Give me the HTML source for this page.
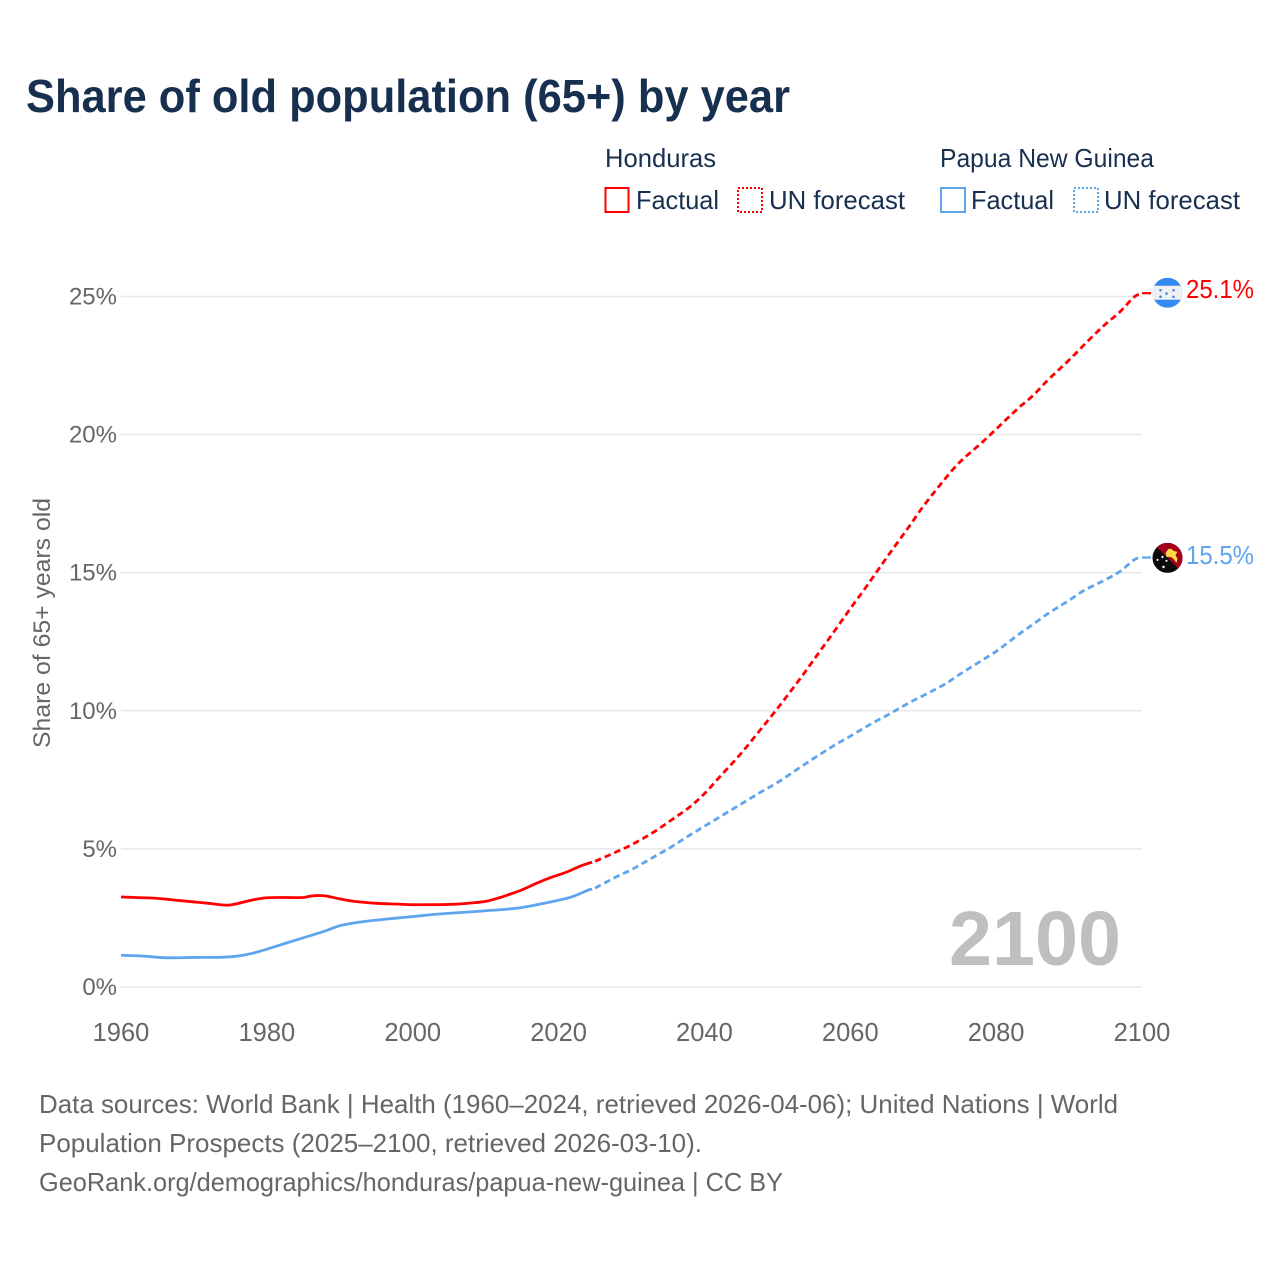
<!DOCTYPE html>
<html lang="en">
<head>
<meta charset="utf-8">
<title>Share of old population (65+) by year</title>
<style>
html,body{margin:0;padding:0;background:#fff;}
svg{display:block;font-family:"Liberation Sans",sans-serif;}
</style>
</head>
<body>
<svg id="chart" width="1280" height="1280" viewBox="0 0 1280 1280" xmlns="http://www.w3.org/2000/svg">
  <rect width="1280" height="1280" fill="#fff"/>
  <text x="26" y="112" font-size="46" font-weight="bold" fill="#18304f" textLength="764" lengthAdjust="spacingAndGlyphs">Share of old population (65+) by year</text>

  <g font-size="26" fill="#18304f">
    <text x="605" y="167" textLength="111" lengthAdjust="spacingAndGlyphs">Honduras</text>
    <rect x="605.5" y="188" width="23" height="24" fill="none" stroke="#ff0000" stroke-width="2"/>
    <text x="636" y="209" textLength="83" lengthAdjust="spacingAndGlyphs">Factual</text>
    <rect x="738" y="188" width="24" height="24" fill="none" stroke="#ff0000" stroke-width="2" stroke-dasharray="2 2"/>
    <text x="769" y="209" textLength="136" lengthAdjust="spacingAndGlyphs">UN forecast</text>
    <text x="940" y="167" textLength="214" lengthAdjust="spacingAndGlyphs">Papua New Guinea</text>
    <rect x="941" y="188" width="24" height="24" fill="none" stroke="#5ea5ee" stroke-width="2"/>
    <text x="971" y="209" textLength="83" lengthAdjust="spacingAndGlyphs">Factual</text>
    <rect x="1074" y="188" width="24" height="24" fill="none" stroke="#5ea5ee" stroke-width="2" stroke-dasharray="2 2"/>
    <text x="1104" y="209" textLength="136" lengthAdjust="spacingAndGlyphs">UN forecast</text>
  </g>

  <g id="grid"></g>
  <g id="yticks" font-size="24" fill="#666"></g>
  <g id="xticks" font-size="25.5" fill="#666"></g>
  <text transform="translate(50,623) rotate(-90)" text-anchor="middle" font-size="24.5" fill="#666" textLength="250" lengthAdjust="spacingAndGlyphs">Share of 65+ years old</text>

  <text x="949" y="965" font-size="77" font-weight="bold" fill="#bfbfbf" textLength="172" lengthAdjust="spacingAndGlyphs">2100</text>

  <g id="series"></g>

  <g id="flag-honduras">
    <clipPath id="clipHn"><circle cx="0" cy="0" r="15"/></clipPath>
    <g clip-path="url(#clipHn)">
      <rect x="-15" y="-15" width="30" height="30" fill="#338af3"/>
      <rect x="-15" y="-7" width="30" height="14" fill="#f0f0f0"/>
      <g fill="#338af3">
        <circle cx="-7" cy="-2.5" r="1.3"/><circle cx="6" cy="-2.5" r="1.3"/>
        <circle cx="-1" cy="0.8" r="1.3"/>
        <circle cx="-7" cy="4" r="1.3"/><circle cx="6" cy="4" r="1.3"/>
      </g>
    </g>
  </g>
  <g id="flag-png">
    <clipPath id="clipPg"><circle cx="0" cy="0" r="15"/></clipPath>
    <g clip-path="url(#clipPg)">
      <rect x="-15" y="-15" width="30" height="30" fill="#0a0a0a"/>
      <polygon points="-15,-15 15,-15 15,15" fill="#a2001d"/>
      <path d="M-2,-5 L1,-9 L4,-9 L6,-7 L10,-6 L8,-3 L10,1 L9,5 L6,1 L3,-1 L-1,-1 Z" fill="#ffda44"/>
      <g fill="#e8f0ff">
        <circle cx="-5" cy="-1" r="1.2"/><circle cx="-10" cy="2" r="1.1"/>
        <circle cx="-1" cy="3" r="1.1"/><circle cx="-4" cy="9" r="1.3"/>
      </g>
    </g>
  </g>

  <text id="label-honduras" x="1186" y="298" font-size="25.5" fill="#ff0000" textLength="68" lengthAdjust="spacingAndGlyphs"></text>
  <text id="label-png" x="1186" y="564" font-size="25.5" fill="#5ea5ee" textLength="68" lengthAdjust="spacingAndGlyphs"></text>

  <g font-size="26" fill="#666">
    <text x="39" y="1113" textLength="1079" lengthAdjust="spacingAndGlyphs">Data sources: World Bank | Health (1960–2024, retrieved 2026-04-06); United Nations | World</text>
    <text x="39" y="1152" textLength="663" lengthAdjust="spacingAndGlyphs">Population Prospects (2025–2100, retrieved 2026-03-10).</text>
    <text x="39" y="1191" textLength="744" lengthAdjust="spacingAndGlyphs">GeoRank.org/demographics/honduras/papua-new-guinea | CC BY</text>
  </g>
</svg>

<script>
const yTickValues = [0, 5, 10, 15, 20, 25];
const xTickValues = [1960, 1980, 2000, 2020, 2040, 2060, 2080, 2100];

const hnFactualYears = [1960,1962,1965,1968,1970,1972,1974,1975,1976,1978,1980,1982,1985,1986,1987,1988,1990,1992,1995,1998,2000,2002,2005,2007,2010,2012,2013,2015,2017,2019,2021,2023,2024,2024.6];
const hnFactualValues = [3.26,3.24,3.21,3.13,3.08,3.03,2.97,2.97,3.02,3.15,3.23,3.24,3.24,3.29,3.31,3.30,3.19,3.10,3.03,3.00,2.98,2.98,2.99,3.02,3.10,3.24,3.33,3.52,3.76,3.97,4.15,4.38,4.47,4.52];

const hnForecastYears = [2025,2028,2030,2033,2035,2038,2040,2042,2045,2048,2050,2053,2055,2058,2060,2062,2065,2068,2070,2073,2075,2078,2080,2083,2085,2087,2090,2093,2095,2097,2099,2100];
const hnForecastValues = [4.55,4.90,5.15,5.60,5.96,6.52,7.00,7.58,8.45,9.42,10.08,11.12,11.85,12.95,13.70,14.42,15.55,16.65,17.40,18.40,19.00,19.70,20.20,20.95,21.40,21.95,22.70,23.50,24.00,24.45,25.00,25.12];

const pgFactualYears = [1960,1963,1966,1970,1974,1976,1978,1980,1983,1985,1988,1990,1992,1995,1998,2000,2003,2005,2008,2010,2013,2015,2018,2020,2022,2024,2024.6];
const pgFactualValues = [1.15,1.12,1.06,1.07,1.08,1.12,1.22,1.37,1.62,1.78,2.03,2.22,2.32,2.42,2.50,2.55,2.63,2.67,2.72,2.76,2.82,2.88,3.03,3.14,3.28,3.50,3.55];

const pgForecastYears = [2025,2028,2030,2033,2035,2038,2040,2043,2045,2048,2050,2053,2055,2058,2060,2063,2065,2068,2070,2073,2075,2078,2080,2083,2085,2087,2090,2092,2095,2097,2099,2100];
const pgForecastValues = [3.58,4.00,4.25,4.70,5.00,5.50,5.82,6.30,6.62,7.10,7.40,7.93,8.28,8.78,9.08,9.55,9.83,10.28,10.55,10.97,11.32,11.82,12.15,12.75,13.12,13.50,14.00,14.35,14.75,15.05,15.48,15.55];

const endValueHonduras = 25.1;
const endValuePng = 15.5;

const NS = 'http://www.w3.org/2000/svg';
const xScale = function (year) { return 121 + (year - 1960) * (1142 - 121) / 140; };
const yScale = function (value) { return 987 - value * (987 - 296.5) / 25; };

function smoothPath(years, values) {
  const pts = years.map(function (y, i) { return [xScale(y), yScale(values[i])]; });
  let d = 'M' + pts[0][0].toFixed(2) + ',' + pts[0][1].toFixed(2);
  for (let i = 0; i < pts.length - 1; i++) {
    const p0 = pts[Math.max(0, i - 1)], p1 = pts[i], p2 = pts[i + 1], p3 = pts[Math.min(pts.length - 1, i + 2)];
    const k = (p2[0] - p1[0]) / 3;
    const s1 = (p2[1] - p0[1]) / (p2[0] - p0[0]);
    const s2 = (p3[1] - p1[1]) / (p3[0] - p1[0]);
    d += 'C' + (p1[0] + k).toFixed(2) + ',' + (p1[1] + k * s1).toFixed(2) + ' ' +
         (p2[0] - k).toFixed(2) + ',' + (p2[1] - k * s2).toFixed(2) + ' ' +
         p2[0].toFixed(2) + ',' + p2[1].toFixed(2);
  }
  return d;
}

const gridGroup = document.getElementById('grid');
const yTickGroup = document.getElementById('yticks');
const xTickGroup = document.getElementById('xticks');
const seriesGroup = document.getElementById('series');

yTickValues.forEach(function (v) {
  const line = document.createElementNS(NS, 'line');
  
  
  line.setAttribute('x1', xScale(1960));
  line.setAttribute('x2', xScale(2100));
  line.setAttribute('y1', yScale(v));
  line.setAttribute('y2', yScale(v));
  line.setAttribute('stroke', '#e8e8e8');
  line.setAttribute('stroke-width', '1.5');
  gridGroup.appendChild(line);

  const t = document.createElementNS(NS, 'text');
  
  
  t.setAttribute('x', 117);
  t.setAttribute('y', yScale(v) + 8);
  t.setAttribute('text-anchor', 'end');
  t.textContent = v + '%';
  yTickGroup.appendChild(t);
});

xTickValues.forEach(function (v) {
  const t = document.createElementNS(NS, 'text');
  
  
  t.setAttribute('x', xScale(v));
  t.setAttribute('y', 1041);
  t.setAttribute('text-anchor', 'middle');
  t.textContent = v;
  xTickGroup.appendChild(t);
});

function drawLine(years, values, color, dashed, name) {
  const p = document.createElementNS(NS, 'path');
  
  
  p.setAttribute('d', smoothPath(years, values));
  p.setAttribute('fill', 'none');
  p.setAttribute('stroke', color);
  p.setAttribute('stroke-width', '2.8');
  if (dashed) p.setAttribute('stroke-dasharray', '6.5 4');
  seriesGroup.appendChild(p);
}

function drawConnector(year, value, color, name) {
  const c = document.createElementNS(NS, 'line');
  
  
  c.setAttribute('x1', xScale(year));
  c.setAttribute('x2', xScale(year) + 9);
  c.setAttribute('y1', yScale(value));
  c.setAttribute('y2', yScale(value));
  c.setAttribute('stroke', color);
  c.setAttribute('stroke-width', '2.2');
  seriesGroup.appendChild(c);
}

drawLine(pgFactualYears, pgFactualValues, '#5ea5ee', false, 'png-factual-line');
drawLine(pgForecastYears, pgForecastValues, '#5ea5ee', true, 'png-forecast-line');
drawLine(hnFactualYears, hnFactualValues, '#ff0000', false, 'honduras-factual-line');
drawLine(hnForecastYears, hnForecastValues, '#ff0000', true, 'honduras-forecast-line');
drawConnector(2100, hnForecastValues[hnForecastValues.length - 1], '#ff0000', 'honduras-end-connector');
drawConnector(2100, pgForecastValues[pgForecastValues.length - 1], '#5ea5ee', 'png-end-connector');

document.getElementById('flag-honduras').setAttribute('transform', 'translate(1167.5,' + (yScale(endValueHonduras) - 1) + ')');
document.getElementById('flag-png').setAttribute('transform', 'translate(1167.5,' + (yScale(endValuePng) - 1) + ')');
document.getElementById('label-honduras').textContent = endValueHonduras.toFixed(1) + '%';
document.getElementById('label-png').textContent = endValuePng.toFixed(1) + '%';
</script>
</body>
</html>
